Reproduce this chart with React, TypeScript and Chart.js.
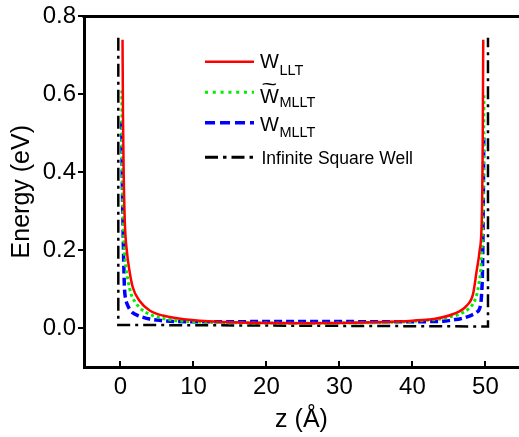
import { useEffect, useRef } from "react";
import { Chart, registerables } from "chart.js";

Chart.register(...registerables);

const FONT = "'Liberation Sans', Arial, Helvetica, sans-serif";

// W_LLT potential profile (z in Å, energy in eV)
const zLLT = [0.28, 0.34, 0.42, 0.59, 0.87, 1.23, 1.69, 2.6, 4.0, 5.8, 9.0, 14, 20, 25, 30, 36, 40, 42.8, 45.6, 47.4, 48.3, 48.8, 49.2, 49.5, 49.62, 49.7];
const eLLT = [0.74, 0.55, 0.42, 0.274, 0.198, 0.147, 0.104, 0.07, 0.045, 0.032, 0.0217, 0.0155, 0.0128, 0.0123, 0.0128, 0.0155, 0.019, 0.023, 0.036, 0.057, 0.087, 0.147, 0.198, 0.28, 0.45, 0.74];

// W̃_MLLT potential profile
const zMLLTt = [0.18, 0.25, 0.35, 0.5, 0.75, 1.0, 1.46, 2.0, 2.6, 3.4, 4.4, 6.0, 7.6, 11, 16, 25, 34, 39, 42, 43.7, 45.2, 46.5, 47.6, 48.3, 48.8, 49.1, 49.4, 49.6, 49.72, 49.8];
const eMLLTt = [0.61, 0.43, 0.3, 0.21, 0.155, 0.125, 0.087, 0.067, 0.053, 0.041, 0.032, 0.024, 0.019, 0.0155, 0.0135, 0.0125, 0.0135, 0.016, 0.02, 0.023, 0.029, 0.036, 0.048, 0.062, 0.085, 0.113, 0.16, 0.25, 0.4, 0.6];

// W_MLLT potential profile
const zMLLT = [0.18, 0.22, 0.28, 0.35, 0.41, 0.48, 0.55, 0.7, 0.9, 1.23, 1.7, 2.4, 3.0, 4.0, 5.5, 7.6, 12, 18, 25, 32, 38, 42.8, 44.5, 45.6, 46.6, 47.4, 48.2, 48.77, 49.2, 49.45, 49.6, 49.7, 49.78];
const eMLLT = [0.53, 0.43, 0.34, 0.26, 0.198, 0.14, 0.1, 0.075, 0.062, 0.049, 0.039, 0.032, 0.028, 0.023, 0.0195, 0.0168, 0.0163, 0.0165, 0.017, 0.0165, 0.0163, 0.0166, 0.018, 0.021, 0.024, 0.028, 0.034, 0.04, 0.05, 0.08, 0.15, 0.3, 0.5];

// Infinite square well outline
const zWell = [-0.3, -0.3, 50.35, 50.35];
const eWell = [0.745, 0.008, 0.004, 0.745];

const xTicks = [0, 10, 20, 30, 40, 50];
const yTicks = [0, 0.2, 0.4, 0.6, 0.8];

const RED = "#ff0000";
const GREEN = "#00ee00";
const BLUE = "#0000ff";
const BLACK = "#000000";

const pairs = (z: number[], e: number[]) => z.map((x, i) => ({ x, y: e[i] }));

// Top frame line and inward x tick marks
const framePlugin = {
  id: "frame",
  afterDraw(chart: any) {
    const { ctx, chartArea: a } = chart;
    const xs = chart.scales.x;
    ctx.save();
    ctx.strokeStyle = BLACK;
    ctx.lineWidth = 3;
    ctx.beginPath();
    ctx.moveTo(a.left - 1.5, a.top);
    ctx.lineTo(a.right, a.top);
    ctx.stroke();
    ctx.lineWidth = 2;
    for (const v of xTicks) {
      const px = Math.round(xs.getPixelForValue(v));
      ctx.beginPath();
      ctx.moveTo(px, a.bottom);
      ctx.lineTo(px, a.bottom - 6);
      ctx.stroke();
    }
    ctx.restore();
  },
};

// Legend with subscripted labels
const legendPlugin = {
  id: "subLegend",
  afterDraw(chart: any) {
    const ctx = chart.ctx as CanvasRenderingContext2D;
    const x0 = 205;
    const x1 = 254;
    const tx = 260;
    ctx.save();
    ctx.lineCap = "butt";

    const sample = (y: number, color: string, width: number, dash: number[]) => {
      ctx.strokeStyle = color;
      ctx.lineWidth = width;
      ctx.setLineDash(dash);
      ctx.beginPath();
      ctx.moveTo(x0, y);
      ctx.lineTo(x1, y);
      ctx.stroke();
      ctx.setLineDash([]);
    };
    const label = (main: string, sub: string, base: number, subBase: number) => {
      ctx.fillStyle = BLACK;
      ctx.textAlign = "left";
      ctx.textBaseline = "alphabetic";
      ctx.font = `20px ${FONT}`;
      ctx.fillText(main, tx, base);
      const w = ctx.measureText(main).width;
      ctx.font = `14.5px ${FONT}`;
      ctx.fillText(sub, tx + w + 0.5, subBase);
      return w;
    };

    sample(61.7, RED, 2.5, []);
    label("W", "LLT", 68.3, 75);

    sample(92.3, GREEN, 3, [3, 4.8]);
    const w = label("W", "MLLT", 103, 106.5);
    ctx.save();
    ctx.translate(tx + w / 2, 85.5);
    ctx.scale(1.35, 1);
    ctx.font = `20px ${FONT}`;
    ctx.textAlign = "center";
    ctx.textBaseline = "middle";
    ctx.fillText("~", 0, 0);
    ctx.restore();

    sample(122.7, BLUE, 3.5, [10, 5]);
    label("W", "MLLT", 130.7, 137);

    sample(157.3, BLACK, 3, [13, 5, 3.5, 5]);
    ctx.fillStyle = BLACK;
    ctx.textAlign = "left";
    ctx.textBaseline = "alphabetic";
    ctx.font = `17.5px ${FONT}`;
    ctx.fillText("Infinite Square Well", 261.5, 164);

    ctx.restore();
  },
};

export default function App() {
  const ref = useRef<HTMLCanvasElement | null>(null);

  useEffect(() => {
    document.body.style.margin = "0";
    const canvas = ref.current;
    if (!canvas) return;

    const line = (data: any, color: string, width: number, dash: number[]) => ({
      data,
      showLine: true,
      borderColor: color,
      backgroundColor: color,
      borderWidth: width,
      borderDash: dash,
      pointRadius: 0,
      pointHoverRadius: 0,
      fill: false,
      cubicInterpolationMode: "monotone" as const,
    });

    const chart = new Chart(canvas, {
      type: "scatter",
      data: {
        datasets: [
          { ...line(pairs(zLLT, eLLT), RED, 2.5, []), label: "W_LLT" },
          { ...line(pairs(zMLLTt, eMLLTt), GREEN, 3, [3, 3]), label: "W~_MLLT" },
          { ...line(pairs(zMLLT, eMLLT), BLUE, 3.5, [8, 4]), label: "W_MLLT" },
          {
            ...line(pairs(zWell, eWell), BLACK, 2.5, [13, 5, 3, 5]),
            cubicInterpolationMode: "default" as const,
            tension: 0,
            label: "Infinite Square Well",
          },
        ],
      },
      options: {
        animation: false,
        responsive: false,
        devicePixelRatio: 1,
        layout: { padding: { top: 14, right: 0, left: 0, bottom: 0 } },
        plugins: {
          legend: { display: false },
          tooltip: { enabled: false },
        },
        scales: {
          x: {
            type: "linear",
            min: -5,
            max: 54.6,
            afterBuildTicks: (s: any) => {
              s.ticks = xTicks.map((v) => ({ value: v }));
            },
            afterFit: (s: any) => {
              s.height = 70;
            },
            border: { display: true, color: BLACK, width: 3 },
            grid: { display: false, drawTicks: false },
            ticks: {
              color: BLACK,
              font: { family: FONT, size: 24 },
              padding: 6,
              maxRotation: 0,
              callback: (v: any) => String(v),
            },
            title: {
              display: true,
              text: "z (Å)",
              color: BLACK,
              font: { family: FONT, size: 25 },
              padding: { top: 0, bottom: 2 },
            },
          },
          y: {
            type: "linear",
            min: -0.1,
            max: 0.8,
            afterBuildTicks: (s: any) => {
              s.ticks = yTicks.map((v) => ({ value: v }));
            },
            afterFit: (s: any) => {
              s.width = 84;
            },
            border: { display: true, color: BLACK, width: 3 },
            grid: {
              display: true,
              drawOnChartArea: false,
              drawTicks: true,
              tickLength: 6,
              color: BLACK,
              lineWidth: 2,
            },
            ticks: {
              color: BLACK,
              font: { family: FONT, size: 24 },
              padding: 2,
              callback: (v: any) => Number(v).toFixed(1),
            },
            title: {
              display: true,
              text: "Energy (eV)",
              color: BLACK,
              font: { family: FONT, size: 25 },
              padding: { top: 7, bottom: 0 },
            },
          },
        },
      },
      plugins: [framePlugin, legendPlugin],
    });

    return () => chart.destroy();
  }, []);

  return (
    <div style={{ width: 519, height: 437, overflow: "hidden" }}>
      <canvas ref={ref} width={519} height={437} style={{ display: "block" }} />
    </div>
  );
}
